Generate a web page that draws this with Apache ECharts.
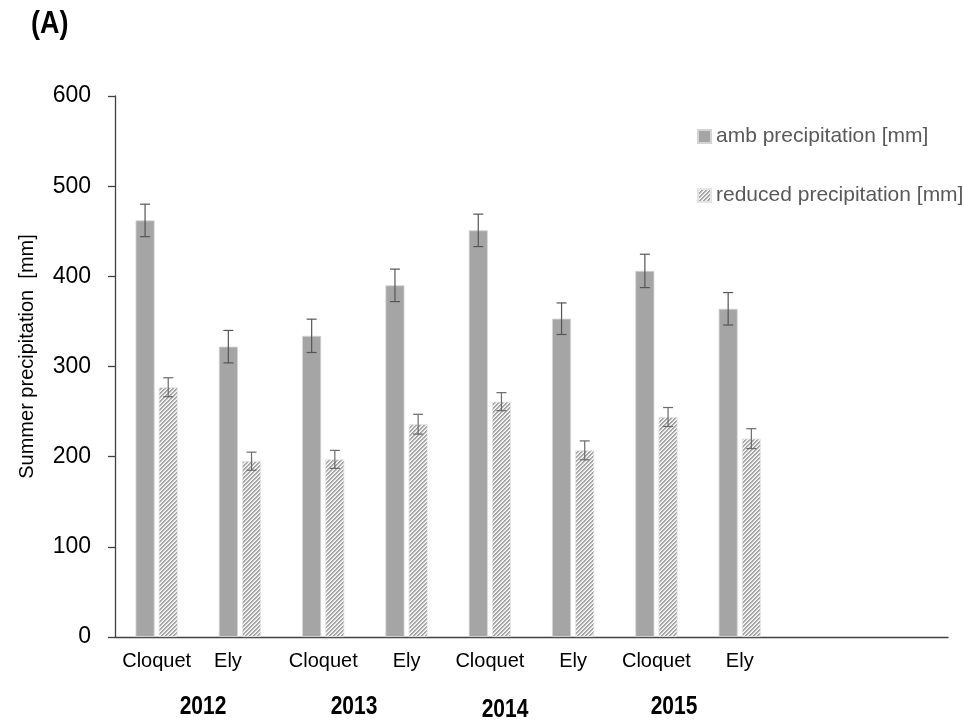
<!DOCTYPE html>
<html>
<head>
<meta charset="utf-8">
<title>Summer precipitation</title>
<script src="https://cdn.jsdelivr.net/npm/echarts@6/dist/echarts.min.js"></script>
<style>
  html, body { margin: 0; padding: 0; background: #ffffff; }
  #chart { width: 964px; height: 721px; }
</style>
</head>
<body>
<div id="chart"></div>
<script>
// Sites per year; the two trailing slots stay empty on the axis
const categories = ['Cloquet', 'Ely', 'Cloquet', 'Ely', 'Cloquet', 'Ely', 'Cloquet', 'Ely', '', ''];
const years = ['2012', '2013', '2014', '2015'];
const yTicks = [0, 100, 200, 300, 400, 500, 600];

// Summer precipitation [mm]
const ambPrecip = [462, 322, 334, 390, 451, 353, 406, 364];
const ambErr = [18, 18, 18.5, 18, 18, 17.5, 18.5, 18];
const reducedPrecip = [277, 195, 197, 236, 261, 207, 244, 220];
const reducedErr = [10.5, 10, 10, 11, 10, 10.5, 10.5, 11];

const AMB_NAME = 'amb precipitation [mm]';
const RED_NAME = 'reduced precipitation [mm]';
const FONT = '"Liberation Sans", Arial, sans-serif';
const BAR_W = 19;
const BAR_GAP = 0.22;
const HALF_STEP = (BAR_W + BAR_W * BAR_GAP) / 2;

// Diagonal hatch used for the reduced-precipitation bars
function hatchPattern() {
  const size = 8;
  const c = document.createElement('canvas');
  c.width = size; c.height = size;
  const ctx = c.getContext('2d');
  const img = ctx.createImageData(size, size);
  for (let y = 0; y < size; y++) {
    for (let x = 0; x < size; x++) {
      const k = (x + y) % 4;
      const v = k === 0 ? 0xa2 : (k === 1 ? 0xae : (k === 2 ? 0xe2 : 0xfa));
      const p = (y * size + x) * 4;
      img.data[p] = v; img.data[p + 1] = v; img.data[p + 2] = v; img.data[p + 3] = 255;
    }
  }
  ctx.putImageData(img, 0, 0);
  return { image: c, repeat: 'repeat' };
}

function errorSeries(values, errs, offset, color) {
  return {
    type: 'custom',
    z: 5,
    silent: true,
    data: values.map((v, i) => [i, v - errs[i], v + errs[i]]),
    renderItem: function (params, api) {
      const i = api.value(0);
      const lo = api.coord([i, api.value(1)]);
      const hi = api.coord([i, api.value(2)]);
      const x = lo[0] + offset;
      const cap = 5;
      const style = { stroke: color, lineWidth: 1.2 };
      return {
        type: 'group',
        children: [
          { type: 'line', shape: { x1: x, y1: lo[1], x2: x, y2: hi[1] }, style: style },
          { type: 'line', shape: { x1: x - cap, y1: hi[1], x2: x + cap, y2: hi[1] }, style: style },
          { type: 'line', shape: { x1: x - cap, y1: lo[1], x2: x + cap, y2: lo[1] }, style: style }
        ]
      };
    }
  };
}

const yearPos = [[203, 707], [354, 707], [505, 710], [674, 707]];

const chart = echarts.init(document.getElementById('chart'), null, { renderer: 'canvas' });
chart.setOption({
  backgroundColor: '#ffffff',
  animation: false,
  textStyle: { fontFamily: FONT },
  grid: { left: 115, right: 16, top: 96, bottom: 84 },
  legend: {
    data: [AMB_NAME, RED_NAME],
    orient: 'vertical',
    left: 692,
    top: 121,
    itemWidth: 13,
    itemHeight: 13,
    itemGap: 38,
    icon: 'rect',
    textStyle: { fontSize: 21, color: '#595959', fontFamily: FONT }
  },
  xAxis: {
    type: 'category',
    data: categories.map((c, i) => i === 1 ? { value: c, textStyle: { padding: [0, 24, 0, 0] } } : c),
    axisLine: { lineStyle: { color: '#404040', width: 1.3 } },
    axisTick: { show: false },
    axisLabel: { fontSize: 20, color: '#000', margin: 14, fontFamily: FONT, interval: 0 }
  },
  yAxis: {
    type: 'value',
    min: yTicks[0],
    max: yTicks[yTicks.length - 1],
    interval: yTicks[1] - yTicks[0],
    name: 'Summer precipitation  [mm]',
    nameLocation: 'middle',
    nameGap: 78,
    nameTextStyle: { fontSize: 20, color: '#000', fontFamily: FONT, padding: [0, 0, 0, 20] },
    axisLine: { show: true, lineStyle: { color: '#404040', width: 1.3 } },
    axisTick: { show: true, length: 7, lineStyle: { color: '#404040', width: 1.3 } },
    splitLine: { show: false },
    axisLabel: { fontSize: 23, color: '#000', margin: 24, fontFamily: FONT }
  },
  series: [
    {
      name: AMB_NAME,
      type: 'bar',
      barWidth: BAR_W,
      barGap: (BAR_GAP * 100) + '%',
      data: ambPrecip,
      itemStyle: { color: '#a5a5a5', borderColor: '#d4d4d4', borderWidth: 0.8 }
    },
    {
      name: RED_NAME,
      type: 'bar',
      barWidth: BAR_W,
      data: reducedPrecip,
      itemStyle: { color: hatchPattern(), borderColor: '#e4e4e4', borderWidth: 0.8 }
    },
    errorSeries(ambPrecip, ambErr, -HALF_STEP, '#555555'),
    errorSeries(reducedPrecip, reducedErr, HALF_STEP, '#6a6a6a')
  ],
  graphic: [
    {
      type: 'text', x: 31, y: 9, scaleY: 1.15,
      style: { text: '(A)', fill: '#000', font: 'bold 27px ' + FONT }
    }
  ].concat(years.map((y, i) => ({
    type: 'text',
    x: yearPos[i][0],
    y: yearPos[i][1],
    scaleY: 1.2,
    style: {
      text: y, fill: '#000', font: 'bold 21px ' + FONT,
      align: 'center', verticalAlign: 'middle'
    }
  })))
});
</script>
</body>
</html>
